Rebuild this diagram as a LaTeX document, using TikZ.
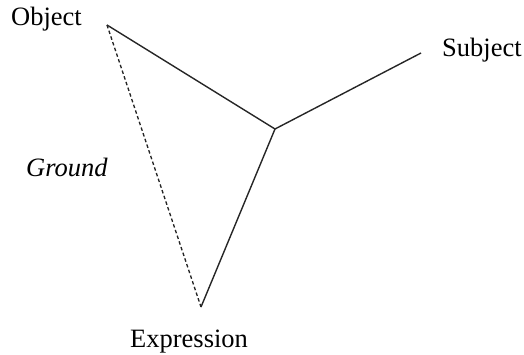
\documentclass[tikz,border=0pt]{standalone}
\usepackage{fontspec}
\setmainfont{Liberation Serif}
\begin{document}
\begin{tikzpicture}[x=1pt,y=-1pt,
  lbl/.style={font=\fontsize{26.5}{30}\selectfont, inner sep=0pt},
  solidline/.style={line width=1.4pt, black!85},
  dashline/.style={line width=1.3pt, black!85, dash pattern=on 3.5pt off 2.5pt}]
\useasboundingbox (0,0) rectangle (524,355);
\coordinate (obj) at (107,25);
\coordinate (ctr) at (275,129);
\coordinate (subj) at (421,53);
\coordinate (expr) at (201,307);
\draw[solidline] (obj) -- (ctr);
\draw[solidline] (ctr) -- (subj);
\draw[solidline] (ctr) -- (expr);
\draw[dashline] (obj) -- (expr);
\node[lbl, anchor=base west] (objlbl) at (11,26) {Object};
\node[lbl, anchor=base west] (subjlbl) at (442,57) {Subject};
\node[lbl, anchor=base west] (exprlbl) at (130,347) {Expression};
\node[lbl, anchor=base west] (groundlbl) at (26,177) {\itshape Ground};
\end{tikzpicture}
\end{document}
